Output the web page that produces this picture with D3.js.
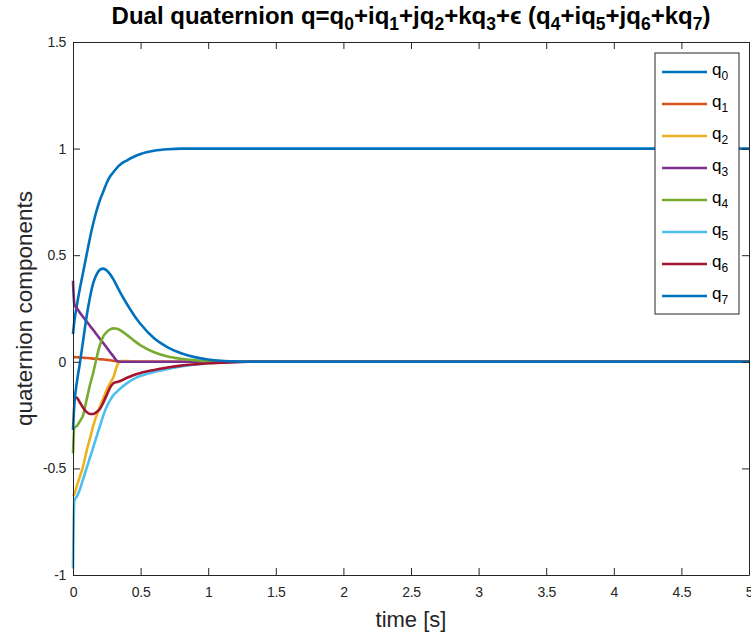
<!DOCTYPE html>
<html>
<head>
<meta charset="utf-8">
<script src="https://cdn.jsdelivr.net/npm/d3@7"></script>
<style>
  html, body { margin: 0; padding: 0; background: #fff; }
  svg { display: block; font-family: "Liberation Sans", Arial, Helvetica, sans-serif; }
</style>
</head>
<body>
<svg id="chart" width="751" height="636"></svg>
<script>
// Sample times [s]
const time = [0, 0.01, 0.03, 0.05, 0.075, 0.1, 0.125, 0.15, 0.175, 0.2, 0.225, 0.25, 0.275, 0.3, 0.325, 0.35,
              0.4, 0.45, 0.5, 0.6, 0.7, 0.8, 0.9, 1.0, 1.1, 1.2, 1.3, 1.5, 2, 3, 4, 5];

// Dual quaternion components
const q0 = [0.13, 0.19, 0.27, 0.34, 0.42, 0.50, 0.58, 0.65, 0.71, 0.76, 0.80, 0.84, 0.87, 0.89, 0.91, 0.925,
            0.945, 0.962, 0.975, 0.99, 0.997, 1, 1, 1, 1, 1, 1, 1, 1, 1, 1, 1];
const q1 = [0.022, 0.022, 0.021, 0.020, 0.019, 0.018, 0.017, 0.015, 0.014, 0.012, 0.011, 0.009, 0.007, 0.005, 0.002, 0.001,
            0, 0, 0, 0, 0, 0, 0, 0, 0, 0, 0, 0, 0, 0, 0, 0];
const q2 = [-0.63, -0.62, -0.58, -0.54, -0.49, -0.42, -0.36, -0.30, -0.25, -0.21, -0.17, -0.13, -0.10, -0.07, -0.02, 0.003,
            0.004, 0.002, 0, 0, 0, 0, 0, 0, 0, 0, 0, 0, 0, 0, 0, 0];
const q3 = [0.38, 0.27, 0.25, 0.231, 0.21, 0.19, 0.169, 0.149, 0.128, 0.107, 0.087, 0.066, 0.045, 0.025, 0.004, 0,
            0, 0, 0, 0, 0, 0, 0, 0, 0, 0, 0, 0, 0, 0, 0, 0];
const q4 = [-0.43, -0.31, -0.30, -0.28, -0.25, -0.18, -0.11, -0.05, 0.02, 0.08, 0.12, 0.14, 0.152, 0.157, 0.155, 0.148,
            0.125, 0.10, 0.077, 0.045, 0.025, 0.014, 0.007, 0.003, 0.001, 0, 0, 0, 0, 0, 0, 0];
const q5 = [-0.97, -0.65, -0.63, -0.60, -0.55, -0.50, -0.45, -0.40, -0.35, -0.30, -0.25, -0.21, -0.18, -0.155, -0.14, -0.125,
            -0.10, -0.08, -0.066, -0.048, -0.034, -0.022, -0.013, -0.007, -0.003, -0.001, 0, 0, 0, 0, 0, 0];
const q6 = [-0.165, -0.165, -0.17, -0.19, -0.215, -0.235, -0.245, -0.245, -0.235, -0.22, -0.19, -0.155, -0.12, -0.10, -0.095, -0.09,
            -0.075, -0.062, -0.052, -0.038, -0.027, -0.018, -0.012, -0.007, -0.004, -0.002, 0, 0, 0, 0, 0, 0];
const q7 = [-0.32, -0.20, -0.09, -0.01, 0.10, 0.21, 0.30, 0.37, 0.41, 0.432, 0.437, 0.428, 0.41, 0.385, 0.355, 0.325,
            0.27, 0.22, 0.177, 0.11, 0.068, 0.04, 0.022, 0.011, 0.005, 0.002, 0, 0, 0, 0, 0, 0];

const seriesNames = ["q0", "q1", "q2", "q3", "q4", "q5", "q6", "q7"];
const seriesValues = [q0, q1, q2, q3, q4, q5, q6, q7];
const colors = ["#0072BD", "#D95319", "#EDB120", "#7E2F8E", "#77AC30", "#4DBEEE", "#A2142F", "#0072BD"];

const xTicks = [0, 0.5, 1, 1.5, 2, 2.5, 3, 3.5, 4, 4.5, 5];
const yTicks = [-1, -0.5, 0, 0.5, 1, 1.5];

const svg = d3.select("#chart");
const margin = { left: 73, right: 2, top: 42, bottom: 61 };
const W = 751, H = 636;

const x = d3.scaleLinear().domain([0, 5]).range([margin.left, W - margin.right]);
const y = d3.scaleLinear().domain([-1, 1.5]).range([H - margin.bottom, margin.top]);

const axisColor = "#262626";

// Data lines
const line = d3.line().x((d, i) => x(time[i])).y(d => y(d)).curve(d3.curveMonotoneX);
const plot = svg.append("g");
seriesValues.forEach((vals, k) => {
  plot.append("path")
    .datum(vals)
    .attr("d", line)
    .attr("fill", "none")
    .attr("stroke", colors[k])
    .attr("stroke-width", 2.6)
    .attr("stroke-linejoin", "round");
});

// Axes with inward ticks (box style)
const tickLen = 7;
const fmt = d => String(d);
const xAxisB = d3.axisBottom(x).tickValues(xTicks).tickFormat(fmt).tickSizeInner(-tickLen).tickSizeOuter(0).tickPadding(12);
const xAxisT = d3.axisTop(x).tickValues(xTicks).tickFormat("").tickSizeInner(-tickLen).tickSizeOuter(0);
const yAxisL = d3.axisLeft(y).tickValues(yTicks).tickFormat(fmt).tickSizeInner(-tickLen).tickSizeOuter(0).tickPadding(7);
const yAxisR = d3.axisRight(y).tickValues(yTicks).tickFormat("").tickSizeInner(-tickLen).tickSizeOuter(0);

function styleAxis(g) {
  g.selectAll("path").attr("stroke", axisColor).attr("stroke-width", 1);
  g.selectAll("line").attr("stroke", axisColor).attr("stroke-width", 1);
  g.selectAll("text").attr("fill", axisColor).style("font-size", "14px").style("letter-spacing", "-0.3px");
}
svg.append("g").attr("transform", `translate(0,${y(-1)})`).call(xAxisB).call(styleAxis);
svg.append("g").attr("transform", `translate(0,${y(1.5)})`).call(xAxisT).call(styleAxis);
svg.append("g").attr("transform", `translate(${x(0)},0)`).call(yAxisL).call(styleAxis);
svg.append("g").attr("transform", `translate(${x(5)},0)`).call(yAxisR).call(styleAxis);

// Title with subscripts
const title = svg.append("text")
  .attr("x", (x(0) + x(5)) / 2).attr("y", 24)
  .attr("text-anchor", "middle")
  .attr("fill", "#000")
  .style("font-size", "24px").style("font-weight", "bold");
const titleParts = [
  ["Dual quaternion q=q", 0], ["0", 1], ["+iq", 0], ["1", 1], ["+jq", 0], ["2", 1], ["+kq", 0], ["3", 1],
  ["+\u03F5 (q", 0], ["4", 1], ["+iq", 0], ["5", 1], ["+jq", 0], ["6", 1], ["+kq", 0], ["7", 1], [")", 0]
];
let prevSub = false;
titleParts.forEach(([t, sub]) => {
  const ts = title.append("tspan").text(t);
  if (sub) ts.style("font-size", "17.5px");
  if (sub && !prevSub) ts.attr("dy", 6);
  else if (!sub && prevSub) ts.attr("dy", -6);
  prevSub = !!sub;
});

// Axis labels
svg.append("text")
  .attr("x", (x(0) + x(5)) / 2).attr("y", 627)
  .attr("text-anchor", "middle").attr("fill", axisColor)
  .style("font-size", "22px").text("time [s]");
svg.append("text")
  .attr("transform", `translate(32,${(y(-1) + y(1.5)) / 2}) rotate(-90)`)
  .attr("text-anchor", "middle").attr("fill", axisColor)
  .style("font-size", "22.5px").text("quaternion components");

// Legend
const lg = svg.append("g").attr("transform", "translate(655,53)");
lg.append("rect").attr("width", 84).attr("height", 261)
  .attr("fill", "#fff").attr("stroke", axisColor).attr("stroke-width", 1);
seriesNames.forEach((name, k) => {
  const cy = 19 + k * 32;
  lg.append("line").attr("x1", 7).attr("x2", 52).attr("y1", cy).attr("y2", cy)
    .attr("stroke", colors[k]).attr("stroke-width", 2.6);
  const t = lg.append("text").attr("x", 57).attr("y", cy + 3).attr("fill", "#000").style("font-size", "17px");
  t.append("tspan").text("q");
  t.append("tspan").attr("dy", 5).style("font-size", "12px").text(name.slice(1));
});
</script>
</body>
</html>
